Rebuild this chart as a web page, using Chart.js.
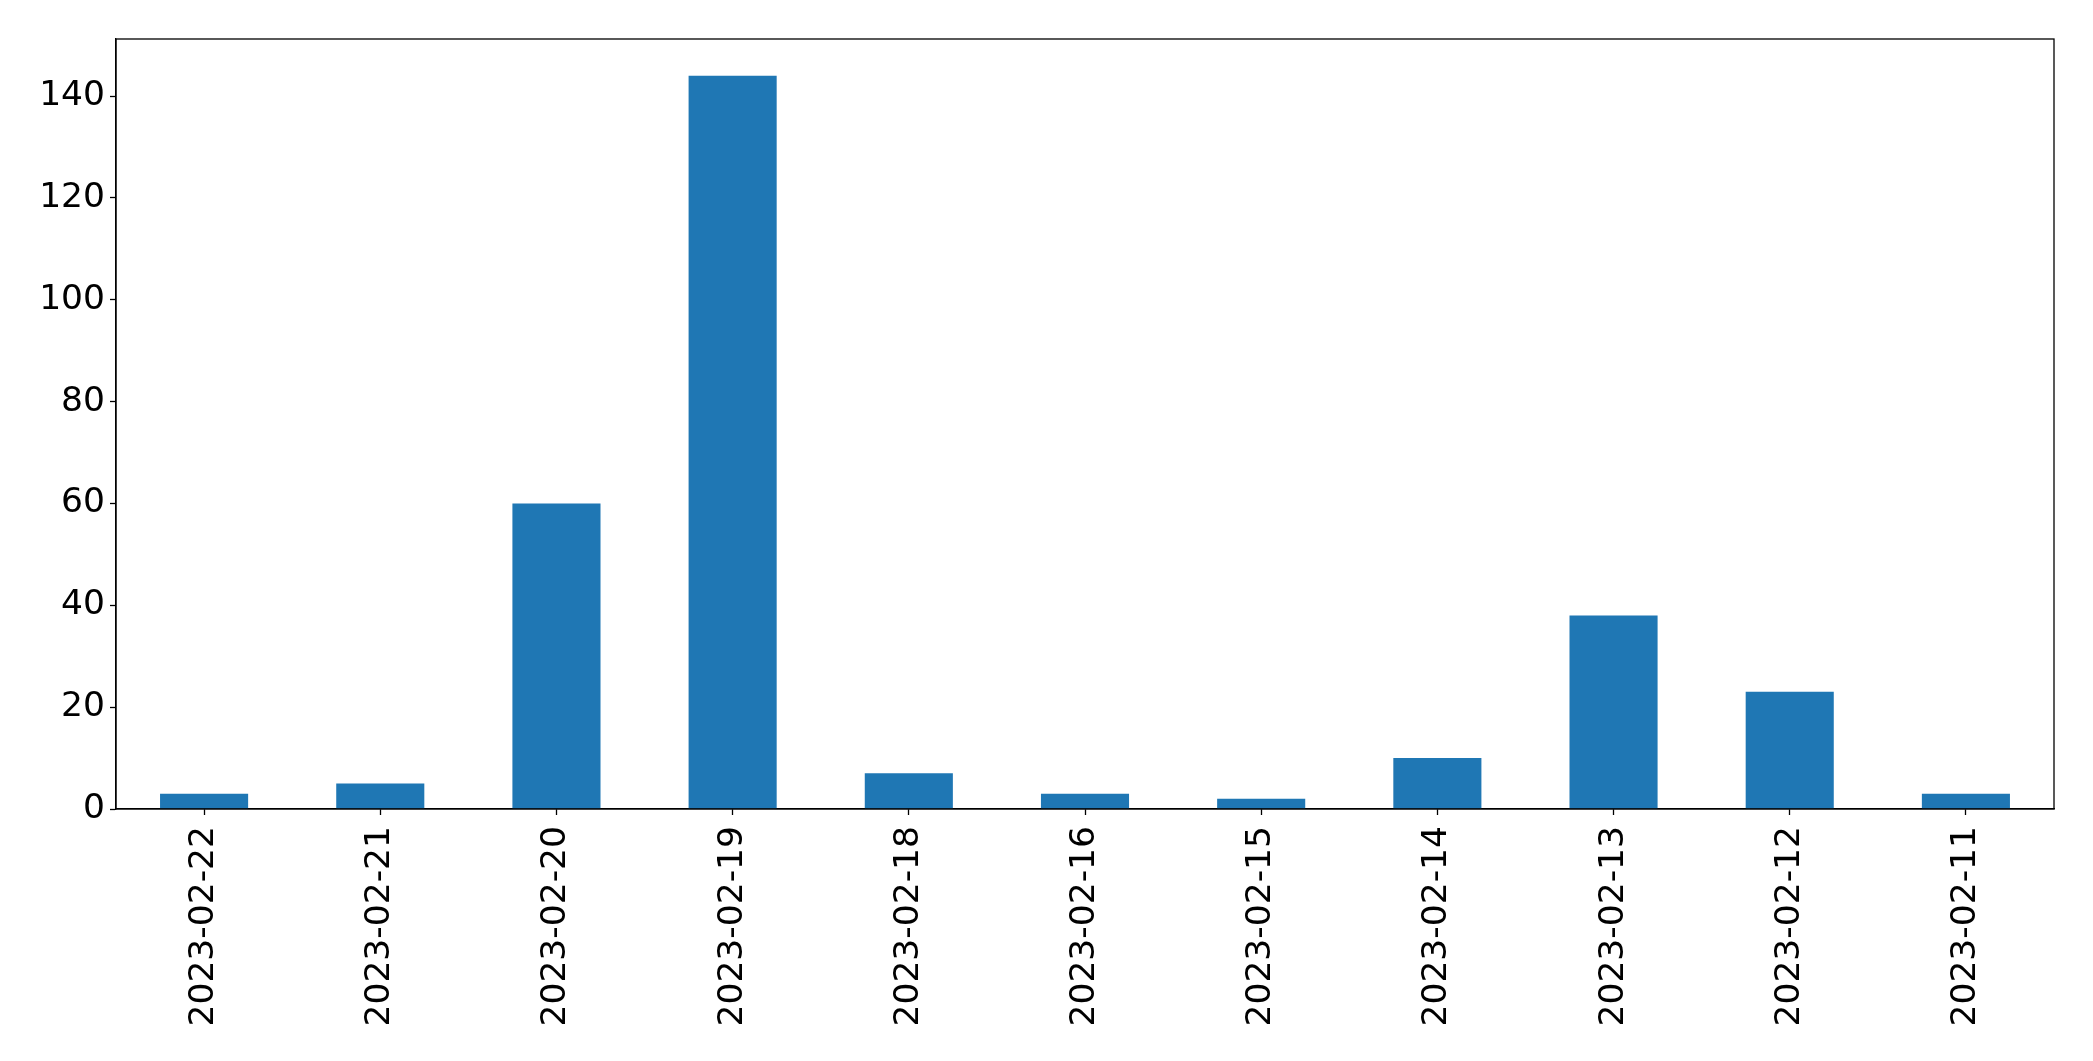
<!DOCTYPE html>
<html>
<head>
<meta charset="utf-8">
<script src="https://cdn.jsdelivr.net/npm/chart.js@4"></script>
<style>
  html, body { margin: 0; padding: 0; background: #fff; }
  #wrap { width: 2093px; height: 1061px; }
</style>
</head>
<body>
<div id="wrap"><canvas id="dailyChart" width="2093" height="1061"></canvas></div>
<script>
// Datas (ordem como no gráfico) e contagens
const dates = ['2023-02-22', '2023-02-21', '2023-02-20', '2023-02-19', '2023-02-18', '2023-02-16',
               '2023-02-15', '2023-02-14', '2023-02-13', '2023-02-12', '2023-02-11'];
const counts = [3, 5, 60, 144, 7, 3, 2, 10, 38, 23, 3];
const yTicks = [0, 20, 40, 60, 80, 100, 120, 140];

const barColor = '#1f77b4';
const tickFont = { family: 'DejaVu Sans', size: 34.5 };

// Moldura completa em volta da área do gráfico (estilo matplotlib)
const framePlugin = {
    id: 'frame',
    afterDraw(chart) {
        const { ctx, chartArea } = chart;
        ctx.save();
        ctx.strokeStyle = '#000';
        ctx.lineWidth = 1.3;
        ctx.strokeRect(chartArea.left, chartArea.top, chartArea.right - chartArea.left, chartArea.bottom - chartArea.top);
        ctx.restore();
    }
};

new Chart(document.getElementById('dailyChart').getContext('2d'), {
    type: 'bar',
    data: {
        labels: dates,
        datasets: [{
            data: counts,
            backgroundColor: barColor,
            borderWidth: 0,
            categoryPercentage: 1.0,
            barPercentage: 0.5
        }]
    },
    options: {
        responsive: false,
        animation: false,
        layout: { padding: { left: 0, top: 39, right: 39, bottom: 0 } },
        plugins: {
            legend: { display: false },
            tooltip: { enabled: false }
        },
        scales: {
            x: {
                grid: { offset: false, drawOnChartArea: false, drawTicks: true, tickLength: 6, tickColor: '#000', tickWidth: 1.3 },
                border: { display: true, color: '#000', width: 1.3 },
                ticks: {
                    color: '#000',
                    font: tickFont,
                    minRotation: 90,
                    maxRotation: 90,
                    autoSkip: false,
                    padding: 11
                },
                afterFit(scale) { scale.height = 252; }
            },
            y: {
                min: 0,
                max: 151.2,
                grid: { drawOnChartArea: false, drawTicks: true, tickLength: 6, tickColor: '#000', tickWidth: 1.3 },
                border: { display: true, color: '#000', width: 1.3 },
                ticks: {
                    color: '#000',
                    font: tickFont,
                    padding: 5,
                    stepSize: 20
                },
                afterBuildTicks(scale) {
                    scale.ticks = yTicks.map(v => ({ value: v }));
                },
                afterFit(scale) { scale.width = 116; }
            }
        }
    },
    plugins: [framePlugin]
});
</script>
</body>
</html>
